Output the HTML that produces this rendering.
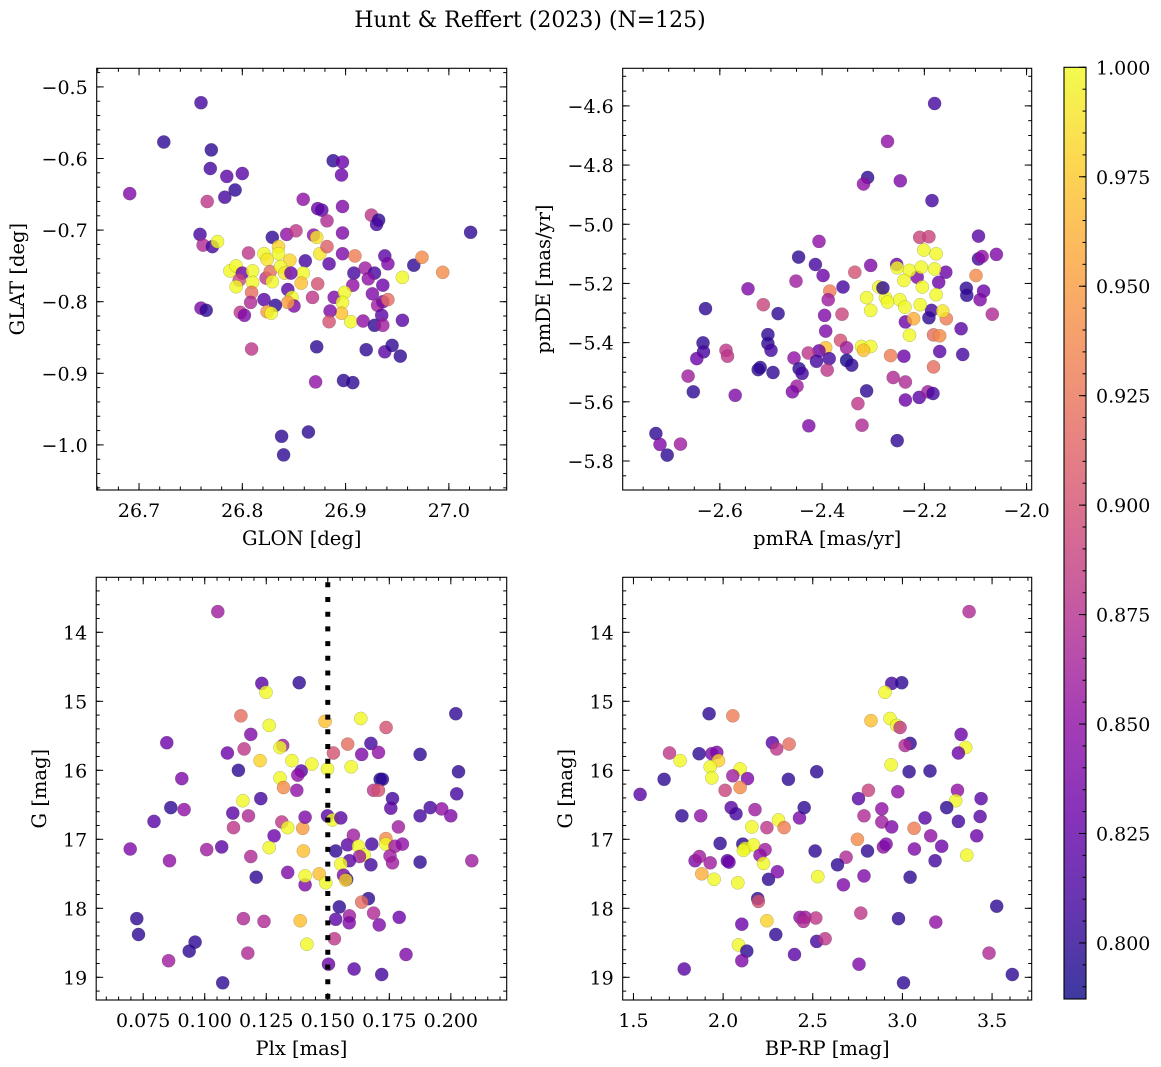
<!DOCTYPE html>
<html><head><meta charset="utf-8">
<style>
html,body{margin:0;padding:0;background:#fff;}
svg{display:block;font-family:"DejaVu Serif","Liberation Serif",serif;}
</style></head>
<body>
<svg id="fig" width="1161" height="1067" viewBox="0 0 1161 1067" xmlns="http://www.w3.org/2000/svg">
<text x="530" y="27" font-size="22" text-anchor="middle" fill="#000">Hunt &amp; Reffert (2023) (N=125)</text>
</svg>
<script>
// ---- Panel 1: GLON vs GLAT ----
const glon = [26.760,26.724,26.770,26.769,26.785,26.800,26.793,26.783,26.691,26.766,26.888,26.897,26.896,26.859,26.873,26.877,26.897,26.882,26.925,26.932,26.930,27.021,26.759,26.897,26.762,26.771,26.776,26.829,26.843,26.852,26.869,26.872,26.806,26.821,26.824,26.835,26.835,26.846,26.861,26.875,26.882,26.884,26.897,26.909,26.938,26.941,26.966,26.974,26.994,26.955,26.908,26.919,26.928,26.922,26.936,26.907,26.859,26.857,26.788,26.794,26.800,26.810,26.797,26.794,26.810,26.809,26.823,26.827,26.829,26.837,26.841,26.847,26.844,26.848,26.850,26.844,26.821,26.832,26.824,26.828,26.808,26.868,26.873,26.889,26.899,26.897,26.896,26.905,26.885,26.884,26.917,26.926,26.931,26.936,26.941,26.935,26.928,26.936,26.955,26.760,26.765,26.798,26.802,26.809,26.872,26.920,26.938,26.945,26.953,26.871,26.898,26.907,26.838,26.864,26.840];
const glat = [-0.522,-0.577,-0.588,-0.614,-0.625,-0.621,-0.644,-0.654,-0.649,-0.660,-0.603,-0.605,-0.623,-0.657,-0.670,-0.672,-0.667,-0.687,-0.679,-0.686,-0.692,-0.703,-0.706,-0.704,-0.721,-0.723,-0.716,-0.710,-0.706,-0.701,-0.707,-0.710,-0.732,-0.733,-0.741,-0.723,-0.733,-0.742,-0.743,-0.733,-0.723,-0.747,-0.733,-0.736,-0.736,-0.747,-0.749,-0.738,-0.759,-0.766,-0.760,-0.753,-0.760,-0.768,-0.777,-0.777,-0.760,-0.774,-0.757,-0.750,-0.760,-0.757,-0.770,-0.779,-0.773,-0.787,-0.767,-0.758,-0.772,-0.751,-0.760,-0.760,-0.783,-0.794,-0.806,-0.801,-0.797,-0.805,-0.814,-0.816,-0.801,-0.794,-0.775,-0.794,-0.787,-0.801,-0.816,-0.828,-0.813,-0.828,-0.827,-0.789,-0.805,-0.800,-0.797,-0.819,-0.833,-0.833,-0.826,-0.809,-0.812,-0.815,-0.819,-0.866,-0.863,-0.867,-0.870,-0.861,-0.876,-0.912,-0.910,-0.913,-0.988,-0.982,-1.014];
const prob1 = [0.81,0.80,0.80,0.81,0.82,0.82,0.80,0.81,0.84,0.88,0.80,0.83,0.83,0.85,0.83,0.82,0.84,0.87,0.88,0.80,0.81,0.80,0.81,0.84,0.87,0.81,1.0,0.80,0.85,0.88,0.85,0.99,0.88,1.0,0.99,0.98,1.0,0.98,0.81,0.99,0.91,0.82,0.84,0.93,0.82,0.84,0.80,0.94,0.94,1.0,0.81,0.86,0.81,0.85,0.83,0.85,1.0,0.97,1.0,1.0,0.83,1.0,0.89,1.0,1.0,0.92,0.88,0.92,1.0,1.0,0.99,0.83,0.82,1.0,0.84,0.95,0.82,0.80,0.95,1.0,0.87,0.88,0.90,0.84,1.0,1.0,0.97,1.0,0.84,0.90,0.85,0.84,0.86,0.84,0.92,0.82,0.80,0.86,0.82,0.84,0.80,0.88,0.84,0.88,0.80,0.80,0.82,0.80,0.80,0.85,0.80,0.80,0.80,0.80,0.80];
const xTicks1 = [26.7,26.8,26.9,27.0];
const yTicks1 = [-0.5,-0.6,-0.7,-0.8,-0.9,-1.0];

// ---- Panel 2: pmRA vs pmDE ----
const pmra = [-2.180,-2.272,-2.311,-2.319,-2.247,-2.185,-2.094,-2.209,-2.191,-2.406,-2.446,-2.413,-2.398,-2.451,-2.336,-2.305,-2.359,-2.385,-2.388,-2.545,-2.628,-2.515,-2.486,-2.395,-2.361,-2.393,-2.364,-2.352,-2.393,-2.406,-2.386,-2.427,-2.411,-2.390,-2.352,-2.342,-2.506,-2.506,-2.500,-2.588,-2.585,-2.633,-2.632,-2.645,-2.662,-2.652,-2.570,-2.525,-2.521,-2.496,-2.455,-2.445,-2.439,-2.449,-2.458,-2.426,-2.313,-2.330,-2.322,-2.253,-2.261,-2.237,-2.237,-2.240,-2.266,-2.210,-2.193,-2.183,-2.182,-2.170,-2.182,-2.170,-2.128,-2.125,-2.118,-2.117,-2.099,-2.094,-2.087,-2.059,-2.084,-2.091,-2.067,-2.158,-2.172,-2.157,-2.186,-2.191,-2.214,-2.237,-2.254,-2.201,-2.177,-2.253,-2.229,-2.206,-2.180,-2.240,-2.204,-2.177,-2.289,-2.276,-2.272,-2.248,-2.238,-2.208,-2.313,-2.305,-2.221,-2.229,-2.164,-2.323,-2.305,-2.319,-2.281,-2.725,-2.717,-2.703,-2.677];
const pmde = [-4.592,-4.720,-4.842,-4.864,-4.853,-4.920,-5.040,-5.044,-5.042,-5.058,-5.111,-5.136,-5.173,-5.192,-5.162,-5.139,-5.212,-5.226,-5.255,-5.218,-5.285,-5.272,-5.302,-5.308,-5.304,-5.361,-5.392,-5.417,-5.417,-5.428,-5.454,-5.435,-5.463,-5.493,-5.460,-5.476,-5.373,-5.403,-5.426,-5.426,-5.446,-5.401,-5.431,-5.454,-5.513,-5.566,-5.578,-5.491,-5.484,-5.501,-5.452,-5.488,-5.504,-5.547,-5.566,-5.681,-5.563,-5.606,-5.679,-5.731,-5.518,-5.533,-5.594,-5.446,-5.444,-5.585,-5.566,-5.572,-5.482,-5.430,-5.374,-5.377,-5.353,-5.440,-5.216,-5.240,-5.173,-5.117,-5.109,-5.102,-5.226,-5.255,-5.304,-5.162,-5.196,-5.319,-5.291,-5.316,-5.179,-5.330,-5.136,-5.087,-5.100,-5.147,-5.156,-5.145,-5.151,-5.190,-5.212,-5.238,-5.212,-5.248,-5.263,-5.255,-5.280,-5.272,-5.248,-5.291,-5.319,-5.375,-5.293,-5.413,-5.413,-5.426,-5.215,-5.707,-5.744,-5.780,-5.743];
const prob2 = [0.81,0.85,0.80,0.85,0.84,0.81,0.82,0.89,0.89,0.85,0.80,0.81,0.83,0.86,0.90,0.84,0.81,0.93,0.86,0.84,0.80,0.89,0.80,0.84,0.89,0.84,0.90,0.86,0.97,0.83,0.81,0.88,0.81,0.88,0.79,0.80,0.80,0.80,0.81,0.88,0.88,0.80,0.81,0.83,0.86,0.80,0.84,0.80,0.80,0.80,0.85,0.80,0.81,0.86,0.84,0.84,0.80,0.88,0.87,0.80,0.87,0.87,0.83,0.83,0.93,0.82,0.86,0.81,0.92,0.82,0.92,0.94,0.82,0.81,0.80,0.80,0.94,0.81,0.85,0.84,0.83,0.84,0.87,0.83,0.83,0.93,0.81,0.80,0.84,0.83,0.83,1.0,1.0,1.0,1.0,1.0,1.0,1.0,1.0,1.0,1.0,1.0,1.0,1.0,1.0,1.0,1.0,1.0,0.96,1.0,0.99,1.0,1.0,0.97,0.80,0.80,0.84,0.80,0.86];
const xTicks2 = [-2.6,-2.4,-2.2,-2.0];
const yTicks2 = [-4.6,-4.8,-5.0,-5.2,-5.4,-5.6,-5.8];

// ---- Panel 3: Plx vs G ----
const plx = [0.1053,0.1232,0.1249,0.1384,0.1147,0.1262,0.1489,0.1634,0.1737,0.2020,0.1187,0.0846,0.1160,0.1092,0.1317,0.1306,0.1225,0.1354,0.1435,0.1499,0.1523,0.1581,0.1638,0.1675,0.1706,0.1595,0.1875,0.2031,0.1137,0.1392,0.1378,0.0907,0.1306,0.1320,0.1374,0.1713,0.1722,0.1686,0.1706,0.1763,0.1756,0.2024,0.1916,0.1875,0.1963,0.2000,0.1155,0.1228,0.0862,0.0916,0.1114,0.1178,0.0794,0.1117,0.1313,0.1337,0.1398,0.1408,0.1499,0.1519,0.1553,0.1282,0.0697,0.1008,0.1069,0.1262,0.1187,0.0857,0.1401,0.1532,0.1580,0.1604,0.1679,0.1625,0.1648,0.1629,0.1588,0.1675,0.1553,0.1736,0.1736,0.1787,0.1773,0.1803,0.1753,0.1763,0.1875,0.2085,0.1209,0.1337,0.1408,0.1408,0.1465,0.1492,0.1564,0.1577,0.1573,0.1665,0.1638,0.1547,0.1532,0.1588,0.1587,0.1686,0.1709,0.1790,0.0724,0.0731,0.1157,0.1241,0.1388,0.1415,0.1527,0.0961,0.0937,0.1175,0.0853,0.1503,0.1607,0.1719,0.1818,0.1073];
const gmag3 = [13.70,14.74,14.87,14.73,15.21,15.35,15.29,15.25,15.38,15.18,15.48,15.60,15.69,15.75,15.64,15.67,15.86,15.86,15.91,15.98,15.75,15.62,15.77,15.61,15.74,15.95,15.77,16.02,16.00,16.01,16.07,16.12,16.11,16.25,16.29,16.13,16.13,16.29,16.29,16.41,16.55,16.34,16.54,16.66,16.56,16.66,16.44,16.41,16.54,16.57,16.62,16.66,16.74,16.83,16.75,16.83,16.84,16.68,16.66,16.72,16.69,16.95,17.14,17.15,17.11,17.12,17.25,17.31,17.17,17.17,17.08,16.94,17.07,17.10,17.23,17.25,17.31,17.37,17.36,16.99,17.07,16.82,17.10,17.07,17.24,17.34,17.33,17.31,17.55,17.48,17.66,17.53,17.50,17.63,17.52,17.58,17.59,17.86,17.91,17.98,18.16,18.11,18.21,18.07,18.24,18.13,18.15,18.38,18.15,18.19,18.18,18.52,18.44,18.49,18.62,18.65,18.76,18.81,18.88,18.96,18.67,19.08];
const prob3 = [0.86,0.82,1.0,0.80,0.92,1.0,0.97,1.0,0.90,0.80,0.84,0.83,0.88,0.83,0.86,1.0,0.98,1.0,1.0,1.0,0.90,0.92,0.84,0.81,0.85,1.0,0.80,0.80,0.80,0.82,0.85,0.84,1.0,0.94,0.85,0.79,0.80,0.88,0.90,0.81,0.82,0.81,0.81,0.81,0.85,0.84,1.0,0.81,0.80,0.85,0.82,0.87,0.82,0.88,0.88,1.0,0.95,0.84,0.82,1.0,0.82,0.83,0.84,0.86,0.82,1.0,0.87,0.85,0.97,0.80,0.82,0.86,0.81,1.0,1.0,0.86,0.82,0.81,1.0,0.94,1.0,0.86,0.86,0.85,0.86,0.86,0.80,0.86,0.80,0.84,0.84,1.0,0.97,1.0,0.84,0.80,0.98,0.80,0.92,0.80,0.82,0.86,0.84,0.87,0.84,0.83,0.80,0.80,0.87,0.87,0.97,1.0,0.88,0.80,0.80,0.87,0.86,0.83,0.82,0.81,0.84,0.80];
const xTicks3 = [0.075,0.100,0.125,0.150,0.175,0.200];
const yTicks3 = [14,15,16,17,18,19];
const plxRef = [0.150];

// ---- Panel 4: BP-RP vs G ----
const bprp = [3.372,2.940,2.996,2.903,1.922,2.054,2.825,2.931,2.968,2.987,3.327,3.353,3.312,3.043,3.015,2.275,2.299,2.368,1.701,1.760,1.866,1.937,1.965,1.974,1.928,1.937,2.095,2.054,2.136,1.671,1.537,2.011,2.095,2.364,2.522,2.937,3.037,3.154,2.810,2.974,3.307,3.297,3.439,3.247,2.755,2.885,2.786,2.885,2.940,3.126,3.312,3.433,3.414,3.158,3.219,3.065,3.067,3.182,3.359,2.749,2.805,2.894,2.909,2.686,2.638,2.513,2.528,2.671,2.786,3.043,1.770,1.875,2.045,2.072,2.178,2.160,2.244,2.309,2.340,2.426,2.452,1.983,2.110,2.123,2.169,2.113,2.234,2.206,2.225,1.844,1.868,1.928,2.024,2.033,1.881,1.950,2.082,2.253,2.303,2.193,2.197,2.244,2.104,2.429,2.457,2.448,2.517,2.294,2.522,2.569,2.768,2.978,3.186,3.526,3.483,3.613,2.086,2.132,2.104,2.398,1.783,2.758,3.006];
const gmag4 = [13.70,14.74,14.73,14.87,15.18,15.21,15.28,15.25,15.35,15.38,15.48,15.67,15.75,15.61,15.64,15.60,15.69,15.62,15.75,15.86,15.76,15.76,15.74,15.86,15.95,16.11,15.98,16.08,16.12,16.13,16.35,16.29,16.25,16.13,16.02,15.92,16.02,16.01,16.29,16.31,16.29,16.44,16.41,16.54,16.41,16.56,16.66,16.75,16.82,16.69,16.74,16.67,16.95,16.95,17.10,16.84,17.14,17.31,17.23,17.00,17.17,17.11,17.07,17.26,17.37,17.17,17.54,17.66,17.53,17.55,16.66,16.66,16.54,16.63,16.57,16.82,16.83,16.72,16.83,16.69,16.54,17.06,17.07,17.13,17.08,17.16,17.15,17.23,17.35,17.31,17.25,17.34,17.31,17.33,17.50,17.58,17.63,17.58,17.47,17.86,17.90,18.18,18.23,18.13,18.13,18.19,18.14,18.38,18.48,18.44,18.07,18.15,18.20,17.97,18.65,18.96,18.53,18.62,18.76,18.67,18.88,18.81,19.08];
const prob4 = [0.87,0.81,0.80,1.0,0.80,0.93,0.97,1.0,1.0,0.88,0.83,1.0,0.83,0.80,0.87,0.82,0.88,0.92,0.88,1.0,0.80,0.84,0.84,0.98,1.0,1.0,1.0,0.86,0.84,0.80,0.82,0.89,0.94,0.80,0.80,1.0,0.80,0.80,0.89,0.85,0.85,1.0,0.82,0.80,0.82,0.85,0.87,0.86,0.84,0.82,0.81,0.82,0.83,0.85,0.83,0.93,0.84,0.81,1.0,0.94,0.80,0.85,0.84,0.87,0.80,0.80,1.0,0.84,0.84,0.80,0.80,0.85,0.82,0.81,0.86,1.0,0.88,1.0,0.93,0.84,0.80,0.80,0.80,1.0,1.0,1.0,0.86,0.85,1.0,0.84,0.86,0.86,0.82,0.83,0.96,1.0,1.0,0.80,0.84,0.80,0.90,0.98,0.83,0.85,0.86,0.87,0.88,0.80,0.81,0.88,0.88,0.80,0.85,0.80,0.87,0.80,1.0,0.80,0.84,0.82,0.82,0.84,0.80];
const xTicks4 = [1.5,2.0,2.5,3.0,3.5];
const yTicks4 = [14,15,16,17,18,19];

// ---- Colorbar ----
const cbTicks = [0.800,0.825,0.850,0.875,0.900,0.925,0.950,0.975,1.000];
const vmin = 0.7872, vmax = 1.0;

const NS = "http://www.w3.org/2000/svg";
const svg = document.getElementById('fig');
function mk(tag, attrs, parent){ const e=document.createElementNS(NS,tag); for(const k in attrs) e.setAttribute(k,attrs[k]); (parent||svg).appendChild(e); return e; }

const plasmaStops = ["#0d0887","#41049d","#6a00a8","#8f0da4","#b12a90","#cc4778","#e16462","#f2844b","#fca636","#fcce25","#f0f921"];
function hex2rgb(h){return [parseInt(h.substr(1,2),16),parseInt(h.substr(3,2),16),parseInt(h.substr(5,2),16)];}
function plasma(t){ t=Math.max(0,Math.min(1,t)); const s=t*10, i=Math.min(9,Math.floor(s)), f=s-i; const a=hex2rgb(plasmaStops[i]), b=hex2rgb(plasmaStops[i+1]); return 'rgb('+a.map((v,k)=>Math.round(v+(b[k]-v)*f)).join(',')+')'; }
function cmap(p){ return plasma((p-vmin)/(vmax-vmin)); }
function fmt(v,d){ return v.toFixed(d).replace('-','\u2212'); }

const TICK_FS = 19, LABEL_FS = 19.5;

function panel(cfg){
  const g = mk('g',{});
  
  
  const {x0,x1,y0,y1,xd,yd} = cfg;
  const sx = v => x0 + (v-xd[0])/(xd[1]-xd[0])*(x1-x0);
  const sy = cfg.yInv ? (v => y0 + (v-yd[0])/(yd[1]-yd[0])*(y1-y0)) : (v => y1 - (v-yd[0])/(yd[1]-yd[0])*(y1-y0));
  const pg = mk('g',{},g);
  
  
  for(let i=0;i<cfg.xs.length;i++){
    const c = mk('circle',{cx:sx(cfg.xs[i]).toFixed(1),cy:sy(cfg.ys[i]).toFixed(1),r:6.6,fill:cmap(cfg.cs[i]),'fill-opacity':0.8,stroke:'rgba(60,60,60,0.35)','stroke-width':0.5},pg);
    
    
  }
  if(cfg.vline){
    cfg.vline.forEach(v=>{
      const l = mk('line',{x1:sx(v),x2:sx(v),y1:y0+5,y2:y1,stroke:'#000','stroke-width':5,'stroke-dasharray':'5 9.7'},g);
      
      
    });
  }
  const fr = mk('rect',{x:x0,y:y0,width:x1-x0,height:y1-y0,fill:'none',stroke:'#000','stroke-width':1.1},g);
  
  
  const tg = mk('g',{stroke:'#000','stroke-width':1},g);
  function minorRange(d, step){ const out=[]; let s=Math.ceil(d[0]/step-1e-9); for(let k=s;k*step<=d[1]+1e-9;k++) out.push(k*step); return out; }
  minorRange(xd,cfg.xMinor).forEach(v=>{const X=sx(v); mk('line',{x1:X,x2:X,y1:y1,y2:y1-3.5},tg); mk('line',{x1:X,x2:X,y1:y0,y2:y0+3.5},tg);});
  minorRange(yd,cfg.yMinor).forEach(v=>{const Y=sy(v); mk('line',{x1:x0,x2:x0+3.5,y1:Y,y2:Y},tg); mk('line',{x1:x1,x2:x1-3.5,y1:Y,y2:Y},tg);});
  cfg.xt.forEach(v=>{const X=sx(v); mk('line',{x1:X,x2:X,y1:y1,y2:y1-7},tg); mk('line',{x1:X,x2:X,y1:y0,y2:y0+7},tg);
    const t=mk('text',{x:X,y:y1+27,'font-size':TICK_FS,'text-anchor':'middle',fill:'#000',stroke:'none'},g); t.textContent=fmt(v,cfg.xDec);
     });
  cfg.yt.forEach(v=>{const Y=sy(v); mk('line',{x1:x0,x2:x0+7,y1:Y,y2:Y},tg); mk('line',{x1:x1,x2:x1-7,y1:Y,y2:Y},tg);
    const t=mk('text',{x:x0-9,y:Y+7,'font-size':TICK_FS,'text-anchor':'end',fill:'#000',stroke:'none'},g); t.textContent=fmt(v,cfg.yDec);
     });
  const xl = mk('text',{x:(x0+x1)/2,y:y1+55,'font-size':LABEL_FS,'text-anchor':'middle',fill:'#000'},g); xl.textContent=cfg.xlabel;
   
  const yl = mk('text',{x:0,y:0,'font-size':LABEL_FS,'text-anchor':'middle',fill:'#000',transform:'translate('+cfg.ylx+','+((y0+y1)/2)+') rotate(-90)'},g); yl.textContent=cfg.ylabel;
   
}

panel({name:'glon-glat-panel',x0:96.7,x1:506.7,y0:68.3,y1:490,xd:[26.659,27.056],yd:[-1.063,-0.474],xs:glon,ys:glat,cs:prob1,xt:xTicks1,yt:yTicks1,xDec:1,yDec:1,xMinor:0.02,yMinor:0.02,xlabel:'GLON [deg]',ylabel:'GLAT [deg]',ylx:24});
panel({name:'proper-motion-panel',x0:622.7,x1:1031.7,y0:68.3,y1:490,xd:[-2.790,-1.990],yd:[-5.898,-4.473],xs:pmra,ys:pmde,cs:prob2,xt:xTicks2,yt:yTicks2,xDec:1,yDec:1,xMinor:0.05,yMinor:0.05,xlabel:'pmRA [mas/yr]',ylabel:'pmDE [mas/yr]',ylx:550});
panel({name:'parallax-magnitude-panel',x0:96.2,x1:506.7,y0:577.3,y1:1000,xd:[0.0559,0.2227],yd:[13.203,19.329],yInv:true,xs:plx,ys:gmag3,cs:prob3,xt:xTicks3,yt:yTicks3,xDec:3,yDec:0,xMinor:0.005,yMinor:0.2,xlabel:'Plx [mas]',ylabel:'G [mag]',ylx:46,vline:plxRef});
panel({name:'color-magnitude-panel',x0:622.7,x1:1031.7,y0:577.3,y1:1000,xd:[1.440,3.721],yd:[13.203,19.329],yInv:true,xs:bprp,ys:gmag4,cs:prob4,xt:xTicks4,yt:yTicks4,xDec:1,yDec:0,xMinor:0.1,yMinor:0.2,xlabel:'BP-RP [mag]',ylabel:'G [mag]',ylx:572});

(function(){
  const cx0=1064, cx1=1086, cy0=67.3, cy1=999;
  const cy = v => cy1 - (v-vmin)/(vmax-vmin)*(cy1-cy0);
  const cg = mk('g',{});
  
  
  const defs = mk('defs',{},cg);
  const lg = mk('linearGradient',{id:'cbgrad',x1:0,y1:1,x2:0,y2:0},defs);
  for(let i=0;i<=20;i++){ mk('stop',{offset:(i/20),'stop-color':plasma(i/20)},lg); }
  mk('rect',{x:cx0,y:cy0,width:cx1-cx0,height:cy1-cy0,fill:'url(#cbgrad)','fill-opacity':0.8},cg);
  mk('rect',{x:cx0,y:cy0,width:cx1-cx0,height:cy1-cy0,fill:'none',stroke:'#000','stroke-width':1.1},cg);
  for(let k=Math.ceil(vmin/0.005);k*0.005<=vmax+1e-9;k++){ const Y=cy(k*0.005); mk('line',{x1:cx1,x2:cx1-3.5,y1:Y,y2:Y,stroke:'#000','stroke-width':1},cg); }
  cbTicks.forEach(v=>{ const Y=cy(v); mk('line',{x1:cx1,x2:cx1-7,y1:Y,y2:Y,stroke:'#000','stroke-width':1},cg);
    const t=mk('text',{x:cx1+10,y:Y+7,'font-size':TICK_FS,fill:'#000'},cg); t.textContent=v.toFixed(3);
      });
})();
</script>
</body></html>
